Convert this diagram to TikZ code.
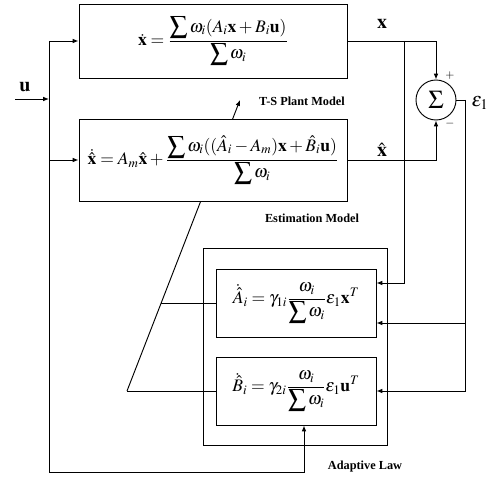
\documentclass[tikz,border=0pt]{standalone}
\usepackage{mathptmx}
\usepackage{fontspec}
\setmainfont{Liberation Serif}
\usetikzlibrary{arrows.meta,calc}

\begin{document}
\begin{tikzpicture}[
    x=0.03cm, y=-0.03cm,
    line width=0.8pt,
    >={Latex[length=5pt,width=4pt]},
    blk/.style={draw, fill=white, inner sep=2pt, minimum width=8.04cm,
      font=\fontsize{15}{18}\selectfont},
    law/.style={draw, inner sep=2pt, minimum width=4.8cm, minimum height=2.04cm,
      font=\fontsize{15}{18}\selectfont},
    lbl/.style={font=\fontsize{10.5}{12}\selectfont\bfseries},
    sig/.style={font=\fontsize{17}{20}\selectfont}
  ]
  \useasboundingbox (0,0) rectangle (492,479);

  % 斜めの線（推定モデルの下をくぐる）
  \coordinate (ta) at (127,391);
  \coordinate (tb) at (240,100);
  \coordinate (tm) at ($(ta)!0.3024!(tb)$);
  \draw[->] (ta) -- (tb);

  % モデルのブロック
  \node[blk, minimum height=2.22cm] (plant) at (213,41)
    {$\displaystyle\dot{\mathbf{x}}=\frac{\displaystyle\sum\omega_i(A_i\mathbf{x}+B_i\mathbf{u})}{\displaystyle\sum\omega_i}$};
  \node[blk, minimum height=2.46cm] (est) at (213,160)
    {$\displaystyle\dot{\hat{\mathbf{x}}}=A_m\hat{\mathbf{x}}+\frac{\displaystyle\sum\omega_i((\hat{A}_i-A_m)\mathbf{x}+\hat{B}_i\mathbf{u})}{\displaystyle\sum\omega_i}$};

  % 適応則
  \node[draw, minimum width=5.52cm, minimum height=5.91cm] (adapt) at (295,346.5) {};
  \node[law] (Abox) at (296,303)
    {$\displaystyle\dot{\hat{A}}_i=\gamma_{1i}\frac{\omega_i}{\displaystyle\sum\omega_i}\varepsilon_1\mathbf{x}^T$};
  \node[law] (Bbox) at (296,391)
    {$\displaystyle\dot{\hat{B}}_i=\gamma_{2i}\frac{\omega_i}{\displaystyle\sum\omega_i}\varepsilon_1\mathbf{u}^T$};

  % 加え合わせ点
  \node[draw, circle, minimum size=1.2cm, inner sep=0pt, font=\fontsize{22}{24}\selectfont] (sum) at (436,100) {$\Sigma$};
  \node (plus) at (450,76) {$+$};
  \node (minus) at (450,124) {$-$};

  % 入力 u
  \coordinate (uin) at (15,99);
  \coordinate (uj) at (49,99);
  \coordinate (ubot) at (49,472);
  \node[sig] (ulbl) at (25,87) {$\mathbf{u}$};
  \draw[->] (uin) -- (uj);
  \draw[->] (uj |- plant.west) -- (plant.west);
  \draw[->] (uj |- est.west) -- (est.west);
  \draw (uj |- plant.west) -- (ubot);
  \draw[->] (ubot) -| ($(Bbox.south)+(8,0)$);

  % 出力 x と推定値
  \coordinate (xj) at ($(plant.east)+(57,0)$);
  \node[sig] (xlbl) at (382,24) {$\mathbf{x}$};
  \node[sig] (xhlbl) at (382,150) {$\hat{\mathbf{x}}$};
  \draw (plant.east) -- (xj);
  \draw[->] (xj) -| (sum.north);
  \draw[->] (xj) |- ($(Abox.east)+(0,-20)$);
  \draw[->] (est.east) -| (sum.south);

  % 誤差 epsilon_1
  \coordinate (ej) at ($(sum.east)+(9,0)$);
  \coordinate (a2) at ($(Abox.east)+(0,20)$);
  \node[sig] (elbl) at (480,103) {$\varepsilon_1$};
  \draw (sum.east) -- (ej);
  \draw[->] (ej) |- (Bbox.east);
  \draw[->] (ej |- a2) -- (a2);

  % 斜線への接続
  \draw (tm) -- (tm -| Abox.west);
  \draw (ta) -- (Bbox.west);

  % ラベル
  \node[lbl] (tsl) at (302,101) {T-S Plant Model};
  \node[lbl] (estl) at (312,218) {Estimation Model};
  \node[lbl] (adl) at (365,467) {Adaptive Law};
\end{tikzpicture}
\end{document}
